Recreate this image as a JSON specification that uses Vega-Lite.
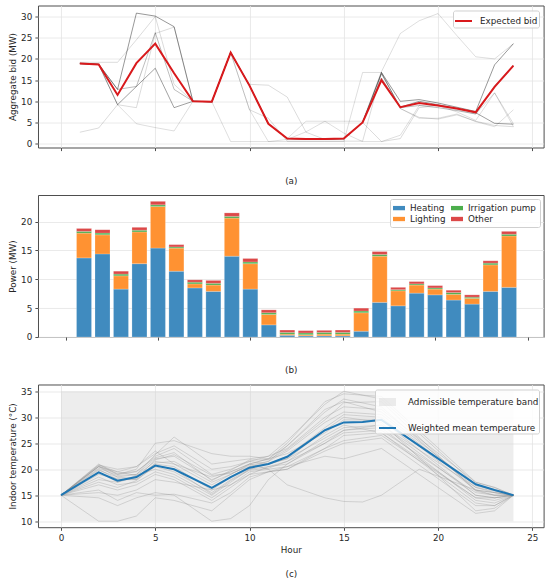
{
  "$schema": "https://vega.github.io/schema/vega-lite/v6.json",
  "padding": {"left": 7, "top": 4.5, "right": 4, "bottom": 4},
  "background": "white",
  "config": {
    "font": "DejaVu Sans",
    "view": {"stroke": "#4d4d4d", "strokeWidth": 1},
    "axis": {
      "labelFontSize": 8.8, "titleFontSize": 8.8, "labelFont": "DejaVu Sans", "titleFont": "DejaVu Sans",
      "labelColor": "#262626", "titleColor": "#262626", "titleFontWeight": "normal",
      "tickColor": "#4d4d4d", "tickSize": 3.1, "labelPadding": 3.1, "titlePadding": 3.5,
      "domain": false, "gridColor": "#e4e4e4", "gridWidth": 0.8, "labelOverlap": false
    },
    "legend": {
      "labelFontSize": 8.8, "labelFont": "DejaVu Sans", "labelColor": "#262626",
      "strokeColor": "#d0d0d0", "fillColor": "rgba(255,255,255,0.85)", "cornerRadius": 2,
      "padding": 4, "offset": 4, "orient": "top-right", "title": null
    }
  },
  "spacing": 47.5,
  "bounds": "flush",
  "resolve": {
    "scale": {"color": "independent", "y": "independent", "opacity": "independent", "strokeWidth": "independent"},
    "legend": {"color": "independent", "opacity": "independent", "strokeWidth": "independent"}
  },
  "datasets": {
    "scenarios": [
      {"s":1,"p":0.5,"h":1,"v":18.9},{"s":1,"p":0.5,"h":2,"v":18.7},{"s":1,"p":0.5,"h":3,"v":12.8},{"s":1,"p":0.5,"h":4,"v":30.8},{"s":1,"p":0.5,"h":5,"v":30.1},{"s":1,"p":0.5,"h":6,"v":27.6},{"s":1,"p":0.5,"h":7,"v":10.0},{"s":1,"p":0.5,"h":8,"v":9.9},{"s":1,"p":0.5,"h":9,"v":21.5},{"s":1,"p":0.5,"h":10,"v":13.7},{"s":1,"p":0.5,"h":11,"v":4.7},{"s":1,"p":0.5,"h":12,"v":1.2},{"s":1,"p":0.5,"h":13,"v":1.1},{"s":1,"p":0.5,"h":14,"v":1.1},{"s":1,"p":0.5,"h":15,"v":1.2},{"s":1,"p":0.5,"h":16,"v":5.0},{"s":1,"p":0.5,"h":17,"v":16.8},{"s":1,"p":0.5,"h":18,"v":10.0},{"s":1,"p":0.5,"h":19,"v":10.4},{"s":1,"p":0.5,"h":20,"v":9.6},{"s":1,"p":0.5,"h":21,"v":8.6},{"s":1,"p":0.5,"h":22,"v":7.6},{"s":1,"p":0.5,"h":23,"v":18.6},{"s":1,"p":0.5,"h":24,"v":23.6},
      {"s":2,"p":0.45,"h":1,"v":18.9},{"s":2,"p":0.45,"h":2,"v":18.7},{"s":2,"p":0.45,"h":3,"v":9.2},{"s":2,"p":0.45,"h":4,"v":13.5},{"s":2,"p":0.45,"h":5,"v":17.8},{"s":2,"p":0.45,"h":6,"v":8.5},{"s":2,"p":0.45,"h":7,"v":10.0},{"s":2,"p":0.45,"h":8,"v":9.9},{"s":2,"p":0.45,"h":9,"v":21.5},{"s":2,"p":0.45,"h":10,"v":13.7},{"s":2,"p":0.45,"h":11,"v":4.7},{"s":2,"p":0.45,"h":12,"v":1.2},{"s":2,"p":0.45,"h":13,"v":1.1},{"s":2,"p":0.45,"h":14,"v":1.1},{"s":2,"p":0.45,"h":15,"v":1.2},{"s":2,"p":0.45,"h":16,"v":5.0},{"s":2,"p":0.45,"h":17,"v":16.5},{"s":2,"p":0.45,"h":18,"v":8.6},{"s":2,"p":0.45,"h":19,"v":10.0},{"s":2,"p":0.45,"h":20,"v":9.2},{"s":2,"p":0.45,"h":21,"v":8.3},{"s":2,"p":0.45,"h":22,"v":7.3},{"s":2,"p":0.45,"h":23,"v":4.8},{"s":2,"p":0.45,"h":24,"v":4.6},
      {"s":3,"p":0.3,"h":1,"v":19.0},{"s":3,"p":0.3,"h":2,"v":18.8},{"s":3,"p":0.3,"h":3,"v":12.8},{"s":3,"p":0.3,"h":4,"v":13.5},{"s":3,"p":0.3,"h":5,"v":26.2},{"s":3,"p":0.3,"h":6,"v":12.8},{"s":3,"p":0.3,"h":7,"v":10.0},{"s":3,"p":0.3,"h":8,"v":9.9},{"s":3,"p":0.3,"h":9,"v":21.5},{"s":3,"p":0.3,"h":10,"v":13.7},{"s":3,"p":0.3,"h":11,"v":4.7},{"s":3,"p":0.3,"h":12,"v":1.2},{"s":3,"p":0.3,"h":13,"v":1.1},{"s":3,"p":0.3,"h":14,"v":1.1},{"s":3,"p":0.3,"h":15,"v":1.2},{"s":3,"p":0.3,"h":16,"v":5.0},{"s":3,"p":0.3,"h":17,"v":15.5},{"s":3,"p":0.3,"h":18,"v":8.5},{"s":3,"p":0.3,"h":19,"v":9.0},{"s":3,"p":0.3,"h":20,"v":8.5},{"s":3,"p":0.3,"h":21,"v":7.8},{"s":3,"p":0.3,"h":22,"v":7.0},{"s":3,"p":0.3,"h":23,"v":13.6},{"s":3,"p":0.3,"h":24,"v":18.5},
      {"s":4,"p":0.14,"h":1,"v":19.2},{"s":4,"p":0.14,"h":2,"v":19.2},{"s":4,"p":0.14,"h":3,"v":19.2},{"s":4,"p":0.14,"h":4,"v":24.5},{"s":4,"p":0.14,"h":5,"v":30.0},{"s":4,"p":0.14,"h":6,"v":14.0},{"s":4,"p":0.14,"h":7,"v":10.0},{"s":4,"p":0.14,"h":8,"v":9.9},{"s":4,"p":0.14,"h":9,"v":21.5},{"s":4,"p":0.14,"h":10,"v":8.0},{"s":4,"p":0.14,"h":11,"v":6.0},{"s":4,"p":0.14,"h":12,"v":0.6},{"s":4,"p":0.14,"h":13,"v":0.6},{"s":4,"p":0.14,"h":14,"v":0.6},{"s":4,"p":0.14,"h":15,"v":0.6},{"s":4,"p":0.14,"h":16,"v":0.6},{"s":4,"p":0.14,"h":17,"v":16.8},{"s":4,"p":0.14,"h":18,"v":8.3},{"s":4,"p":0.14,"h":19,"v":6.2},{"s":4,"p":0.14,"h":20,"v":5.8},{"s":4,"p":0.14,"h":21,"v":6.8},{"s":4,"p":0.14,"h":22,"v":5.3},{"s":4,"p":0.14,"h":23,"v":4.3},{"s":4,"p":0.14,"h":24,"v":4.0},
      {"s":5,"p":0.14,"h":1,"v":2.7},{"s":5,"p":0.14,"h":2,"v":3.7},{"s":5,"p":0.14,"h":3,"v":9.2},{"s":5,"p":0.14,"h":4,"v":8.5},{"s":5,"p":0.14,"h":5,"v":26.0},{"s":5,"p":0.14,"h":6,"v":27.5},{"s":5,"p":0.14,"h":7,"v":10.0},{"s":5,"p":0.14,"h":8,"v":9.9},{"s":5,"p":0.14,"h":9,"v":21.5},{"s":5,"p":0.14,"h":10,"v":14.0},{"s":5,"p":0.14,"h":11,"v":13.8},{"s":5,"p":0.14,"h":12,"v":11.0},{"s":5,"p":0.14,"h":13,"v":2.7},{"s":5,"p":0.14,"h":14,"v":1.0},{"s":5,"p":0.14,"h":15,"v":1.0},{"s":5,"p":0.14,"h":16,"v":5.0},{"s":5,"p":0.14,"h":17,"v":0.5},{"s":5,"p":0.14,"h":18,"v":1.2},{"s":5,"p":0.14,"h":19,"v":8.5},{"s":5,"p":0.14,"h":20,"v":9.0},{"s":5,"p":0.14,"h":21,"v":8.0},{"s":5,"p":0.14,"h":22,"v":7.0},{"s":5,"p":0.14,"h":23,"v":12.0},{"s":5,"p":0.14,"h":24,"v":4.7},
      {"s":6,"p":0.12,"h":1,"v":18.9},{"s":6,"p":0.12,"h":2,"v":18.7},{"s":6,"p":0.12,"h":3,"v":9.2},{"s":6,"p":0.12,"h":4,"v":4.7},{"s":6,"p":0.12,"h":5,"v":3.8},{"s":6,"p":0.12,"h":6,"v":3.0},{"s":6,"p":0.12,"h":7,"v":10.0},{"s":6,"p":0.12,"h":8,"v":9.9},{"s":6,"p":0.12,"h":9,"v":0.5},{"s":6,"p":0.12,"h":10,"v":0.5},{"s":6,"p":0.12,"h":11,"v":0.5},{"s":6,"p":0.12,"h":12,"v":1.0},{"s":6,"p":0.12,"h":13,"v":2.8},{"s":6,"p":0.12,"h":14,"v":5.3},{"s":6,"p":0.12,"h":15,"v":5.3},{"s":6,"p":0.12,"h":16,"v":5.3},{"s":6,"p":0.12,"h":17,"v":17.0},{"s":6,"p":0.12,"h":18,"v":26.0},{"s":6,"p":0.12,"h":19,"v":29.0},{"s":6,"p":0.12,"h":20,"v":30.7},{"s":6,"p":0.12,"h":21,"v":25.5},{"s":6,"p":0.12,"h":22,"v":20.5},{"s":6,"p":0.12,"h":23,"v":20.0},{"s":6,"p":0.12,"h":24,"v":23.6},
      {"s":7,"p":0.12,"h":1,"v":18.9},{"s":7,"p":0.12,"h":2,"v":18.7},{"s":7,"p":0.12,"h":3,"v":11.5},{"s":7,"p":0.12,"h":4,"v":19.0},{"s":7,"p":0.12,"h":5,"v":23.6},{"s":7,"p":0.12,"h":6,"v":16.6},{"s":7,"p":0.12,"h":7,"v":10.0},{"s":7,"p":0.12,"h":8,"v":9.9},{"s":7,"p":0.12,"h":9,"v":21.5},{"s":7,"p":0.12,"h":10,"v":8.0},{"s":7,"p":0.12,"h":11,"v":0.5},{"s":7,"p":0.12,"h":12,"v":0.5},{"s":7,"p":0.12,"h":13,"v":0.5},{"s":7,"p":0.12,"h":14,"v":0.5},{"s":7,"p":0.12,"h":15,"v":0.5},{"s":7,"p":0.12,"h":16,"v":16.8},{"s":7,"p":0.12,"h":17,"v":16.8},{"s":7,"p":0.12,"h":18,"v":8.3},{"s":7,"p":0.12,"h":19,"v":6.0},{"s":7,"p":0.12,"h":20,"v":6.0},{"s":7,"p":0.12,"h":21,"v":7.0},{"s":7,"p":0.12,"h":22,"v":5.2},{"s":7,"p":0.12,"h":23,"v":4.0},{"s":7,"p":0.12,"h":24,"v":8.0},
      {"s":8,"p":0.12,"h":1,"v":18.9},{"s":8,"p":0.12,"h":2,"v":18.7},{"s":8,"p":0.12,"h":3,"v":11.5},{"s":8,"p":0.12,"h":4,"v":19.0},{"s":8,"p":0.12,"h":5,"v":23.6},{"s":8,"p":0.12,"h":6,"v":16.6},{"s":8,"p":0.12,"h":7,"v":10.0},{"s":8,"p":0.12,"h":8,"v":9.9},{"s":8,"p":0.12,"h":9,"v":21.5},{"s":8,"p":0.12,"h":10,"v":13.7},{"s":8,"p":0.12,"h":11,"v":4.7},{"s":8,"p":0.12,"h":12,"v":1.2},{"s":8,"p":0.12,"h":13,"v":5.3},{"s":8,"p":0.12,"h":14,"v":5.3},{"s":8,"p":0.12,"h":15,"v":2.5},{"s":8,"p":0.12,"h":16,"v":0.5},{"s":8,"p":0.12,"h":17,"v":0.5},{"s":8,"p":0.12,"h":18,"v":2.0},{"s":8,"p":0.12,"h":19,"v":9.0},{"s":8,"p":0.12,"h":20,"v":9.0},{"s":8,"p":0.12,"h":21,"v":7.5},{"s":8,"p":0.12,"h":22,"v":5.5},{"s":8,"p":0.12,"h":23,"v":12.0},{"s":8,"p":0.12,"h":24,"v":4.0}
    ],
    "expected": [
      {"h":1,"v":18.9},{"h":2,"v":18.7},{"h":3,"v":11.5},{"h":4,"v":19.0},{"h":5,"v":23.6},{"h":6,"v":16.6},{"h":7,"v":10.0},{"h":8,"v":9.9},{"h":9,"v":21.5},{"h":10,"v":13.7},{"h":11,"v":4.7},{"h":12,"v":1.2},{"h":13,"v":1.1},{"h":14,"v":1.1},{"h":15,"v":1.2},{"h":16,"v":5.0},{"h":17,"v":15.0},{"h":18,"v":8.6},{"h":19,"v":9.6},{"h":20,"v":9.0},{"h":21,"v":8.3},{"h":22,"v":7.4},{"h":23,"v":13.4},{"h":24,"v":18.4}
    ],
    "power": [
      {"h":1,"Heating":13.7,"Lighting":4.3,"Irrigation pump":0.3,"Other":0.5},
      {"h":2,"Heating":14.4,"Lighting":3.3,"Irrigation pump":0.3,"Other":0.6},
      {"h":3,"Heating":8.3,"Lighting":2.3,"Irrigation pump":0.3,"Other":0.5},
      {"h":4,"Heating":12.7,"Lighting":5.5,"Irrigation pump":0.3,"Other":0.5},
      {"h":5,"Heating":15.4,"Lighting":7.2,"Irrigation pump":0.3,"Other":0.6},
      {"h":6,"Heating":11.4,"Lighting":4.0,"Irrigation pump":0.2,"Other":0.4},
      {"h":7,"Heating":8.5,"Lighting":0.7,"Irrigation pump":0.3,"Other":0.4},
      {"h":8,"Heating":7.9,"Lighting":1.1,"Irrigation pump":0.3,"Other":0.5},
      {"h":9,"Heating":14.0,"Lighting":6.6,"Irrigation pump":0.3,"Other":0.6},
      {"h":10,"Heating":8.3,"Lighting":4.4,"Irrigation pump":0.3,"Other":0.6},
      {"h":11,"Heating":2.1,"Lighting":1.8,"Irrigation pump":0.3,"Other":0.5},
      {"h":12,"Heating":0.3,"Lighting":0.2,"Irrigation pump":0.3,"Other":0.4},
      {"h":13,"Heating":0.2,"Lighting":0.2,"Irrigation pump":0.3,"Other":0.4},
      {"h":14,"Heating":0.2,"Lighting":0.3,"Irrigation pump":0.3,"Other":0.35},
      {"h":15,"Heating":0.2,"Lighting":0.3,"Irrigation pump":0.3,"Other":0.4},
      {"h":16,"Heating":1.0,"Lighting":3.2,"Irrigation pump":0.3,"Other":0.5},
      {"h":17,"Heating":6.0,"Lighting":8.0,"Irrigation pump":0.3,"Other":0.5},
      {"h":18,"Heating":5.4,"Lighting":2.6,"Irrigation pump":0.2,"Other":0.4},
      {"h":19,"Heating":7.6,"Lighting":1.4,"Irrigation pump":0.2,"Other":0.4},
      {"h":20,"Heating":7.3,"Lighting":1.0,"Irrigation pump":0.2,"Other":0.4},
      {"h":21,"Heating":6.4,"Lighting":1.0,"Irrigation pump":0.3,"Other":0.4},
      {"h":22,"Heating":5.7,"Lighting":1.0,"Irrigation pump":0.2,"Other":0.4},
      {"h":23,"Heating":7.9,"Lighting":4.6,"Irrigation pump":0.3,"Other":0.4},
      {"h":24,"Heating":8.6,"Lighting":8.9,"Irrigation pump":0.3,"Other":0.5}
    ],
    "band": [{"h0":0,"h1":24,"lo":10,"hi":35,"name":"Admissible temperature band"}],
    "mean": [
      {"h":0,"t":15.0},{"h":2,"t":19.4},{"h":3,"t":17.8},{"h":4,"t":18.5},{"h":5,"t":20.7},{"h":6,"t":20.0},{"h":8,"t":16.4},{"h":9,"t":18.5},{"h":10,"t":20.3},{"h":11,"t":21.0},{"h":12,"t":22.4},{"h":14,"t":27.5},{"h":15,"t":29.0},{"h":16,"t":29.1},{"h":17,"t":29.5},{"h":22,"t":17.1},{"h":23,"t":16.0},{"h":24,"t":15.0}
    ],
    "zones": [
      {"s":1,"h":0,"t":15},{"s":1,"h":2,"t":20.8},{"s":1,"h":3,"t":19.5},{"s":1,"h":4,"t":18.8},{"s":1,"h":5,"t":21.5},{"s":1,"h":6,"t":21.0},{"s":1,"h":8,"t":17.0},{"s":1,"h":9,"t":19.0},{"s":1,"h":10,"t":20.8},{"s":1,"h":11,"t":21.5},{"s":1,"h":12,"t":23.5},{"s":1,"h":14,"t":29.0},{"s":1,"h":15,"t":31.0},{"s":1,"h":17,"t":30.5},{"s":1,"h":22,"t":16.5},{"s":1,"h":23,"t":15.8},{"s":1,"h":24,"t":15},
      {"s":2,"h":0,"t":15},{"s":2,"h":2,"t":20.5},{"s":2,"h":3,"t":18.5},{"s":2,"h":4,"t":19.0},{"s":2,"h":5,"t":22.0},{"s":2,"h":6,"t":22.5},{"s":2,"h":8,"t":18.0},{"s":2,"h":9,"t":19.5},{"s":2,"h":10,"t":21.0},{"s":2,"h":11,"t":22.0},{"s":2,"h":12,"t":24.5},{"s":2,"h":14,"t":31.0},{"s":2,"h":15,"t":33.5},{"s":2,"h":17,"t":32.0},{"s":2,"h":22,"t":16.0},{"s":2,"h":23,"t":15.5},{"s":2,"h":24,"t":15},
      {"s":3,"h":0,"t":15},{"s":3,"h":2,"t":20.0},{"s":3,"h":3,"t":18.0},{"s":3,"h":4,"t":18.0},{"s":3,"h":5,"t":20.5},{"s":3,"h":6,"t":19.5},{"s":3,"h":8,"t":15.5},{"s":3,"h":9,"t":18.0},{"s":3,"h":10,"t":20.0},{"s":3,"h":11,"t":20.5},{"s":3,"h":12,"t":21.5},{"s":3,"h":14,"t":25.0},{"s":3,"h":15,"t":27.0},{"s":3,"h":17,"t":27.5},{"s":3,"h":22,"t":15.5},{"s":3,"h":23,"t":15.0},{"s":3,"h":24,"t":15},
      {"s":4,"h":0,"t":15},{"s":4,"h":2,"t":19.5},{"s":4,"h":3,"t":17.5},{"s":4,"h":4,"t":18.5},{"s":4,"h":5,"t":21.0},{"s":4,"h":6,"t":20.5},{"s":4,"h":8,"t":16.0},{"s":4,"h":9,"t":18.5},{"s":4,"h":10,"t":20.5},{"s":4,"h":11,"t":21.0},{"s":4,"h":12,"t":22.0},{"s":4,"h":14,"t":26.0},{"s":4,"h":15,"t":28.0},{"s":4,"h":17,"t":28.5},{"s":4,"h":22,"t":16.5},{"s":4,"h":23,"t":15.5},{"s":4,"h":24,"t":15},
      {"s":5,"h":0,"t":15},{"s":5,"h":2,"t":21.0},{"s":5,"h":3,"t":19.0},{"s":5,"h":4,"t":19.5},{"s":5,"h":5,"t":22.5},{"s":5,"h":6,"t":24.0},{"s":5,"h":8,"t":19.0},{"s":5,"h":9,"t":20.0},{"s":5,"h":10,"t":21.5},{"s":5,"h":11,"t":22.5},{"s":5,"h":12,"t":25.5},{"s":5,"h":14,"t":32.5},{"s":5,"h":15,"t":35.0},{"s":5,"h":17,"t":33.5},{"s":5,"h":22,"t":17.0},{"s":5,"h":23,"t":16.0},{"s":5,"h":24,"t":15},
      {"s":6,"h":0,"t":15},{"s":6,"h":2,"t":18.5},{"s":6,"h":3,"t":17.0},{"s":6,"h":4,"t":17.5},{"s":6,"h":5,"t":19.5},{"s":6,"h":6,"t":18.5},{"s":6,"h":8,"t":14.5},{"s":6,"h":9,"t":17.0},{"s":6,"h":10,"t":19.5},{"s":6,"h":11,"t":20.0},{"s":6,"h":12,"t":20.5},{"s":6,"h":14,"t":24.0},{"s":6,"h":15,"t":25.5},{"s":6,"h":17,"t":26.5},{"s":6,"h":22,"t":14.5},{"s":6,"h":23,"t":14.5},{"s":6,"h":24,"t":15},
      {"s":7,"h":0,"t":15},{"s":7,"h":2,"t":20.2},{"s":7,"h":3,"t":18.8},{"s":7,"h":4,"t":19.0},{"s":7,"h":5,"t":22.8},{"s":7,"h":6,"t":26.2},{"s":7,"h":8,"t":21.0},{"s":7,"h":9,"t":21.5},{"s":7,"h":10,"t":22.0},{"s":7,"h":11,"t":22.5},{"s":7,"h":12,"t":24.0},{"s":7,"h":14,"t":30.0},{"s":7,"h":15,"t":32.0},{"s":7,"h":17,"t":31.5},{"s":7,"h":22,"t":17.5},{"s":7,"h":23,"t":16.5},{"s":7,"h":24,"t":15},
      {"s":8,"h":0,"t":15},{"s":8,"h":2,"t":17.0},{"s":8,"h":3,"t":16.0},{"s":8,"h":4,"t":17.0},{"s":8,"h":5,"t":19.0},{"s":8,"h":6,"t":18.0},{"s":8,"h":8,"t":14.0},{"s":8,"h":9,"t":16.5},{"s":8,"h":10,"t":19.0},{"s":8,"h":11,"t":20.5},{"s":8,"h":12,"t":21.0},{"s":8,"h":14,"t":25.5},{"s":8,"h":15,"t":27.5},{"s":8,"h":17,"t":28.0},{"s":8,"h":22,"t":14.0},{"s":8,"h":23,"t":13.5},{"s":8,"h":24,"t":15},
      {"s":9,"h":0,"t":15},{"s":9,"h":2,"t":20.8},{"s":9,"h":3,"t":20.0},{"s":9,"h":4,"t":20.5},{"s":9,"h":5,"t":23.0},{"s":9,"h":6,"t":24.5},{"s":9,"h":8,"t":20.0},{"s":9,"h":9,"t":20.5},{"s":9,"h":10,"t":21.5},{"s":9,"h":11,"t":21.0},{"s":9,"h":12,"t":22.5},{"s":9,"h":14,"t":28.0},{"s":9,"h":15,"t":30.5},{"s":9,"h":17,"t":30.0},{"s":9,"h":22,"t":16.0},{"s":9,"h":23,"t":15.0},{"s":9,"h":24,"t":15},
      {"s":10,"h":0,"t":15},{"s":10,"h":2,"t":16.0},{"s":10,"h":3,"t":14.0},{"s":10,"h":4,"t":15.5},{"s":10,"h":5,"t":15.0},{"s":10,"h":6,"t":15.2},{"s":10,"h":8,"t":13.5},{"s":10,"h":9,"t":15.5},{"s":10,"h":10,"t":18.5},{"s":10,"h":11,"t":19.5},{"s":10,"h":12,"t":20.0},{"s":10,"h":14,"t":23.5},{"s":10,"h":15,"t":25.0},{"s":10,"h":17,"t":26.0},{"s":10,"h":22,"t":13.0},{"s":10,"h":23,"t":13.0},{"s":10,"h":24,"t":15},
      {"s":11,"h":0,"t":15},{"s":11,"h":2,"t":19.0},{"s":11,"h":3,"t":18.2},{"s":11,"h":4,"t":18.0},{"s":11,"h":5,"t":21.2},{"s":11,"h":6,"t":21.5},{"s":11,"h":8,"t":17.5},{"s":11,"h":9,"t":19.0},{"s":11,"h":10,"t":21.0},{"s":11,"h":11,"t":22.0},{"s":11,"h":12,"t":23.0},{"s":11,"h":14,"t":27.0},{"s":11,"h":15,"t":29.5},{"s":11,"h":17,"t":29.5},{"s":11,"h":22,"t":15.0},{"s":11,"h":23,"t":14.5},{"s":11,"h":24,"t":15},
      {"s":12,"h":0,"t":15},{"s":12,"h":2,"t":20.5},{"s":12,"h":3,"t":19.0},{"s":12,"h":4,"t":20.0},{"s":12,"h":5,"t":25.0},{"s":12,"h":6,"t":25.5},{"s":12,"h":8,"t":23.0},{"s":12,"h":9,"t":22.5},{"s":12,"h":10,"t":22.5},{"s":12,"h":11,"t":22.0},{"s":12,"h":12,"t":25.0},{"s":12,"h":14,"t":33.0},{"s":12,"h":15,"t":34.5},{"s":12,"h":17,"t":34.0},{"s":12,"h":22,"t":17.5},{"s":12,"h":23,"t":16.5},{"s":12,"h":24,"t":15},
      {"s":13,"h":0,"t":15},{"s":13,"h":2,"t":18.0},{"s":13,"h":3,"t":17.5},{"s":13,"h":4,"t":18.8},{"s":13,"h":5,"t":20.0},{"s":13,"h":6,"t":19.0},{"s":13,"h":8,"t":15.0},{"s":13,"h":9,"t":17.5},{"s":13,"h":10,"t":20.0},{"s":13,"h":11,"t":21.0},{"s":13,"h":12,"t":22.0},{"s":13,"h":14,"t":27.5},{"s":13,"h":15,"t":30.0},{"s":13,"h":17,"t":29.0},{"s":13,"h":22,"t":12.0},{"s":13,"h":23,"t":12.5},{"s":13,"h":24,"t":15},
      {"s":14,"h":0,"t":15},{"s":14,"h":2,"t":10.0},{"s":14,"h":3,"t":10.0},{"s":14,"h":4,"t":11.0},{"s":14,"h":5,"t":14.5},{"s":14,"h":6,"t":14.0},{"s":14,"h":8,"t":12.0},{"s":14,"h":9,"t":15.0},{"s":14,"h":10,"t":18.0},{"s":14,"h":11,"t":19.5},{"s":14,"h":12,"t":20.0},{"s":14,"h":14,"t":24.0},{"s":14,"h":15,"t":26.5},{"s":14,"h":17,"t":27.0},{"s":14,"h":22,"t":14.5},{"s":14,"h":23,"t":14.0},{"s":14,"h":24,"t":15},
      {"s":15,"h":0,"t":15},{"s":15,"h":2,"t":14.5},{"s":15,"h":3,"t":13.0},{"s":15,"h":4,"t":14.5},{"s":15,"h":5,"t":15.5},{"s":15,"h":6,"t":15.0},{"s":15,"h":8,"t":10.0},{"s":15,"h":9,"t":10.5},{"s":15,"h":10,"t":13.0},{"s":15,"h":11,"t":18.0},{"s":15,"h":12,"t":21.0},{"s":15,"h":14,"t":25.0},{"s":15,"h":15,"t":27.5},{"s":15,"h":17,"t":28.5},{"s":15,"h":22,"t":15.0},{"s":15,"h":23,"t":14.5},{"s":15,"h":24,"t":15},
      {"s":16,"h":0,"t":15},{"s":16,"h":2,"t":20.5},{"s":16,"h":3,"t":19.5},{"s":16,"h":4,"t":20.5},{"s":16,"h":5,"t":23.5},{"s":16,"h":6,"t":21.0},{"s":16,"h":8,"t":18.5},{"s":16,"h":9,"t":19.5},{"s":16,"h":10,"t":21.0},{"s":16,"h":11,"t":20.0},{"s":16,"h":12,"t":17.0},{"s":16,"h":14,"t":14.5},{"s":16,"h":15,"t":13.8},{"s":16,"h":16,"t":13.7},{"s":16,"h":17,"t":15.0},{"s":16,"h":19,"t":20.0},{"s":16,"h":22,"t":16.0},{"s":16,"h":23,"t":15.5},{"s":16,"h":24,"t":15},
      {"s":17,"h":0,"t":15},{"s":17,"h":2,"t":15.5},{"s":17,"h":3,"t":15.0},{"s":17,"h":4,"t":16.0},{"s":17,"h":5,"t":18.0},{"s":17,"h":6,"t":17.5},{"s":17,"h":8,"t":16.0},{"s":17,"h":9,"t":17.0},{"s":17,"h":10,"t":19.0},{"s":17,"h":11,"t":19.5},{"s":17,"h":12,"t":20.5},{"s":17,"h":14,"t":22.5},{"s":17,"h":15,"t":22.0},{"s":17,"h":17,"t":24.0},{"s":17,"h":22,"t":11.5},{"s":17,"h":23,"t":12.0},{"s":17,"h":24,"t":15},
      {"s":18,"h":0,"t":15},{"s":18,"h":2,"t":19.8},{"s":18,"h":3,"t":18.5},{"s":18,"h":4,"t":18.2},{"s":18,"h":5,"t":21.8},{"s":18,"h":6,"t":22.8},{"s":18,"h":8,"t":18.8},{"s":18,"h":9,"t":19.2},{"s":18,"h":10,"t":20.5},{"s":18,"h":11,"t":21.5},{"s":18,"h":12,"t":24.5},{"s":18,"h":14,"t":31.5},{"s":18,"h":15,"t":33.0},{"s":18,"h":17,"t":31.0},{"s":18,"h":22,"t":16.8},{"s":18,"h":23,"t":16.0},{"s":18,"h":24,"t":15},
      {"s":19,"h":0,"t":15},{"s":19,"h":2,"t":20.6},{"s":19,"h":3,"t":19.2},{"s":19,"h":4,"t":19.6},{"s":19,"h":5,"t":22.2},{"s":19,"h":6,"t":23.2},{"s":19,"h":8,"t":17.8},{"s":19,"h":9,"t":19.8},{"s":19,"h":10,"t":21.8},{"s":19,"h":11,"t":21.8},{"s":19,"h":12,"t":23.8},{"s":19,"h":14,"t":29.5},{"s":19,"h":15,"t":32.8},{"s":19,"h":17,"t":33.0},{"s":19,"h":22,"t":15.8},{"s":19,"h":23,"t":15.0},{"s":19,"h":24,"t":15},
      {"s":20,"h":0,"t":15},{"s":20,"h":2,"t":17.5},{"s":20,"h":3,"t":16.5},{"s":20,"h":4,"t":17.8},{"s":20,"h":5,"t":20.8},{"s":20,"h":6,"t":20.0},{"s":20,"h":8,"t":15.2},{"s":20,"h":9,"t":17.8},{"s":20,"h":10,"t":19.8},{"s":20,"h":11,"t":20.2},{"s":20,"h":12,"t":21.5},{"s":20,"h":14,"t":26.5},{"s":20,"h":15,"t":28.5},{"s":20,"h":17,"t":27.0},{"s":20,"h":22,"t":13.5},{"s":20,"h":23,"t":13.0},{"s":20,"h":24,"t":15}
    ]
  },
  "vconcat": [
    {
      "width": 505.6,
      "height": 142,
      "layer": [
        {
          "data": {"name": "scenarios"},
          "mark": {"type": "line", "color": "#000000", "strokeWidth": 0.9},
          "encoding": {
            "x": {"field": "h", "type": "quantitative", "scale": {"domain": [-1.22, 25.6], "nice": false, "zero": false},
                  "axis": {"values": [0, 5, 10, 15, 20, 25], "labels": false, "grid": true, "title": "(a)", "titlePadding": 25.8}},
            "y": {"field": "v", "type": "quantitative", "scale": {"domain": [-0.9, 32.6], "nice": false, "zero": false},
                  "axis": {"values": [0, 5, 10, 15, 20, 25, 30], "grid": true, "title": "Aggregate bid (MW)"}},
            "detail": {"field": "s", "type": "nominal"},
            "opacity": {"field": "p", "type": "quantitative", "scale": {"domain": [0.1, 0.5], "range": [0.13, 0.45]}, "legend": null}
          }
        },
        {
          "data": {"name": "expected"},
          "mark": {"type": "line", "strokeWidth": 2},
          "encoding": {
            "x": {"field": "h", "type": "quantitative", "scale": {"domain": [-1.22, 25.6], "nice": false, "zero": false},
                  "axis": {"values": [0, 5, 10, 15, 20, 25], "labels": false, "grid": true, "title": "(a)", "titlePadding": 25.8}},
            "y": {"field": "v", "type": "quantitative", "scale": {"domain": [-0.9, 32.6], "nice": false, "zero": false},
                  "axis": {"values": [0, 5, 10, 15, 20, 25, 30], "grid": true, "title": "Aggregate bid (MW)"}},
            "color": {"datum": "Expected bid", "type": "nominal",
                      "scale": {"domain": ["Expected bid"], "range": ["#d9191c"]},
                      "legend": {"symbolType": "stroke", "symbolSize": 289, "symbolStrokeWidth": 2, "padding": 1, "labelOffset": 7, "offset": 5}}
          }
        }
      ]
    },
    {
      "width": 505.6,
      "height": 142,
      "data": {"name": "power"},
      "transform": [
        {"fold": ["Heating", "Lighting", "Irrigation pump", "Other"], "as": ["load", "mw"]},
        {"calculate": "indexof(['Heating','Lighting','Irrigation pump','Other'], datum.load)", "as": "ord"}
      ],
      "mark": {"type": "bar", "width": 15, "stroke": "white", "strokeWidth": 0.4, "strokeOpacity": 0.5},
      "encoding": {
        "x": {"field": "h", "type": "quantitative", "scale": {"domain": [-1.22, 25.6], "nice": false, "zero": false},
              "axis": {"values": [0, 5, 10, 15, 20, 25], "labels": false, "grid": false, "title": "(b)", "titlePadding": 24.5}},
        "y": {"field": "mw", "type": "quantitative", "aggregate": "sum", "stack": "zero",
              "scale": {"domain": [0, 24.6], "nice": false},
              "axis": {"values": [0, 5, 10, 15, 20], "grid": true, "title": "Power (MW)"}},
        "color": {"field": "load", "type": "nominal",
                  "scale": {"domain": ["Heating", "Lighting", "Irrigation pump", "Other"], "range": ["#408bbf", "#ff9232", "#4cae4c", "#dc4848"]},
                  "legend": {"columns": 2, "symbolType": "M-1,-0.36H1V0.36H-1Z", "symbolSize": 144, "symbolStrokeWidth": 0,
                             "columnPadding": 5, "rowPadding": 0, "labelOffset": 5, "padding": 3}},
        "order": {"field": "ord", "type": "quantitative"}
      }
    },
    {
      "width": 505.6,
      "height": 142.7,
      "layer": [
        {
          "data": {"name": "band"},
          "mark": {"type": "rect"},
          "encoding": {
            "x": {"field": "h0", "type": "quantitative", "scale": {"domain": [-1.22, 25.6], "nice": false, "zero": false},
                  "axis": {"values": [0, 5, 10, 15, 20, 25], "grid": true, "title": ["Hour", "(c)"], "titleLineHeight": 24}},
            "x2": {"field": "h1"},
            "y": {"field": "lo", "type": "quantitative", "scale": {"domain": [8.85, 36.3], "nice": false, "zero": false},
                  "axis": {"values": [10, 15, 20, 25, 30, 35], "grid": true, "title": "Indoor temperature (°C)"}},
            "y2": {"field": "hi"},
            "color": {"field": "name", "type": "nominal",
                      "scale": {"domain": ["Admissible temperature band", "Weighted mean temperature"], "range": ["#d3d3d3", "#1f77b4"]},
                      "legend": {"symbolType": "stroke", "symbolSize": 289, "labelOffset": 8, "padding": 0, "rowPadding": -11, "offset": 5}},
            "strokeWidth": {"field": "name", "type": "ordinal",
                      "scale": {"domain": ["Admissible temperature band", "Weighted mean temperature"], "range": [8, 2]},
                      "legend": {"symbolType": "stroke", "symbolSize": 289, "labelOffset": 8, "padding": 0, "rowPadding": -11, "offset": 5}},
            "opacity": {"field": "name", "type": "ordinal",
                      "scale": {"domain": ["Admissible temperature band", "Weighted mean temperature"], "range": [0.42, 1]},
                      "legend": {"symbolType": "stroke", "symbolSize": 289, "labelOffset": 8, "padding": 0, "rowPadding": -11, "offset": 5}}
          }
        },
        {
          "data": {"name": "zones"},
          "mark": {"type": "line", "color": "#8c8c8c", "strokeWidth": 0.8, "opacity": 0.38},
          "encoding": {
            "x": {"field": "h", "type": "quantitative", "scale": {"domain": [-1.22, 25.6], "nice": false, "zero": false},
                  "axis": {"values": [0, 5, 10, 15, 20, 25], "grid": true, "title": ["Hour", "(c)"], "titleLineHeight": 24}},
            "y": {"field": "t", "type": "quantitative", "scale": {"domain": [8.85, 36.3], "nice": false, "zero": false},
                  "axis": {"values": [10, 15, 20, 25, 30, 35], "grid": true, "title": "Indoor temperature (°C)"}},
            "detail": {"field": "s", "type": "nominal"}
          }
        },
        {
          "data": {"name": "mean"},
          "mark": {"type": "line"},
          "encoding": {
            "x": {"field": "h", "type": "quantitative", "scale": {"domain": [-1.22, 25.6], "nice": false, "zero": false},
                  "axis": {"values": [0, 5, 10, 15, 20, 25], "grid": true, "title": ["Hour", "(c)"], "titleLineHeight": 24}},
            "y": {"field": "t", "type": "quantitative", "scale": {"domain": [8.85, 36.3], "nice": false, "zero": false},
                  "axis": {"values": [10, 15, 20, 25, 30, 35], "grid": true, "title": "Indoor temperature (°C)"}},
            "color": {"datum": "Weighted mean temperature", "type": "nominal"},
            "strokeWidth": {"datum": "Weighted mean temperature", "type": "ordinal"},
            "opacity": {"datum": "Weighted mean temperature", "type": "ordinal"}
          }
        },
        {
          "mark": {"type": "rule", "color": "#e8696b", "strokeDash": [3, 2], "strokeWidth": 1},
          "encoding": {"y": {"datum": 35, "type": "quantitative", "scale": {"domain": [8.85, 36.3], "nice": false, "zero": false},
                  "axis": {"values": [10, 15, 20, 25, 30, 35], "grid": true, "title": "Indoor temperature (°C)"}}}
        },
        {
          "mark": {"type": "rule", "color": "#2b83c6", "strokeDash": [3, 2], "strokeWidth": 1},
          "encoding": {"y": {"datum": 10, "type": "quantitative", "scale": {"domain": [8.85, 36.3], "nice": false, "zero": false},
                  "axis": {"values": [10, 15, 20, 25, 30, 35], "grid": true, "title": "Indoor temperature (°C)"}}}
        }
      ]
    }
  ]
}
